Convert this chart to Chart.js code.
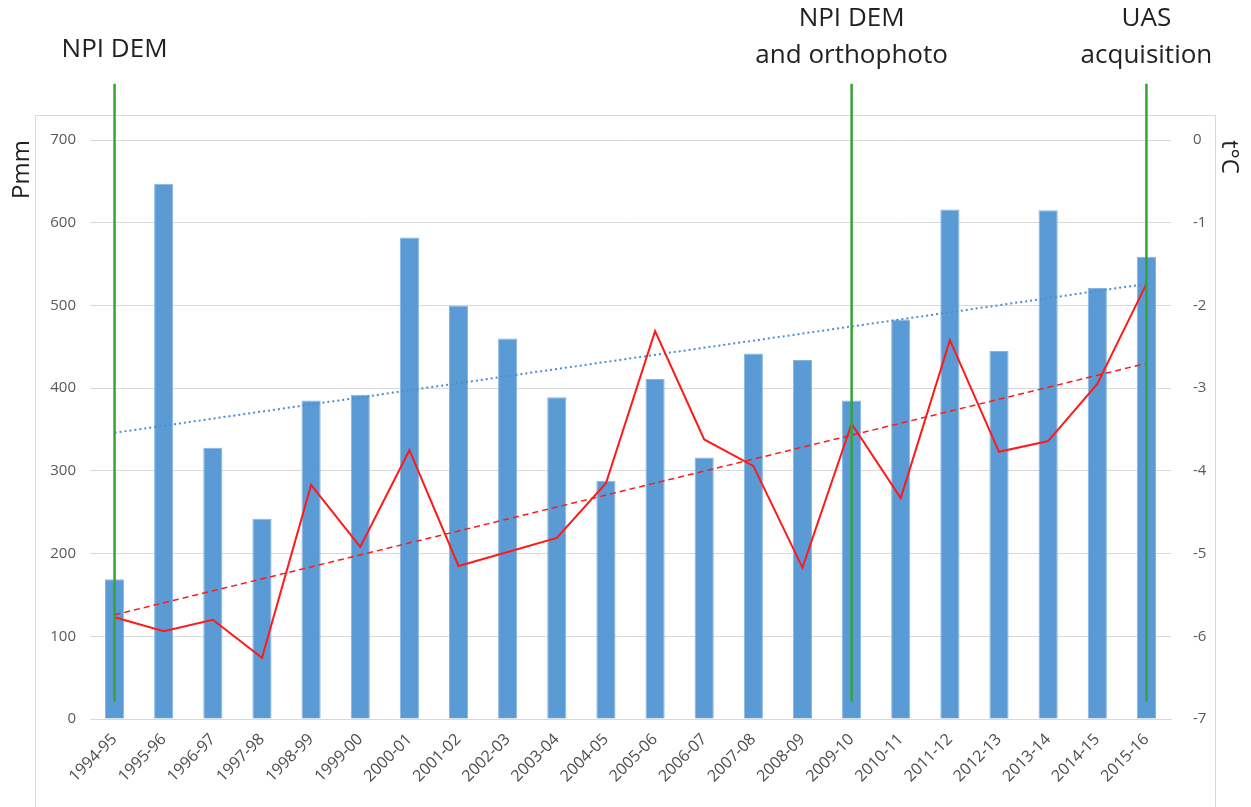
<!DOCTYPE html>
<html>
<head>
<meta charset="utf-8">
<script src="https://cdn.jsdelivr.net/npm/chart.js@4.4.1/dist/chart.umd.min.js"></script>
<style>
  body { margin: 0; background: #fff; }
  #wrap { width: 1251px; height: 807px; }
</style>
</head>
<body>
<div id="wrap"><canvas id="myChart"></canvas></div>
<script>
const seasons = ["1994-95", "1995-96", "1996-97", "1997-98", "1998-99", "1999-00",
  "2000-01", "2001-02", "2002-03", "2003-04", "2004-05", "2005-06", "2006-07",
  "2007-08", "2008-09", "2009-10", "2010-11", "2011-12", "2012-13", "2013-14",
  "2014-15", "2015-16"];

// precipitation, mm (left axis)
const precipitation = [169, 647, 328, 242, 385, 392, 582, 500, 460, 389, 288, 411,
  316, 442, 434, 385, 483, 616, 445, 615, 521, 559];

// mean temperature, °C (right axis)
const temperature = [-5.77, -5.94, -5.80, -6.26, -4.17, -4.92, -3.75, -5.15, -4.98,
  -4.81, -4.15, -2.31, -3.62, -3.94, -5.17, -3.43, -4.33, -2.42, -3.77, -3.64,
  -2.95, -1.74];

// linear trends, first and last season
const precipTrend = [346, 526];
const tempTrend = [-5.74, -2.70];

// acquisitions marked with green lines
const markerSeasons = ["1994-95", "2009-10", "2015-16"];
const markerLabels = [["NPI DEM"], ["NPI DEM", "and orthophoto"], ["UAS", "acquisition"]];
const markerSpan = [21, 768];

const tickFont = { family: "'Open Sans', sans-serif", size: 15 };
const tickColor = "#595959";
const blue = "#5b9bd5";
const red = "#ff1a1a";
const green = "#36a335";

const ends = (arr) => [
  { x: seasons[0], y: arr[0] },
  { x: seasons[seasons.length - 1], y: arr[1] },
];

const markerSets = markerSeasons.map((s) => ({
  type: "line",
  data: markerSpan.map((v) => ({ x: s, y: v })),
  yAxisID: "y",
  borderColor: green,
  borderWidth: 2.5,
  pointRadius: 0,
  clip: false,
  order: 0,
}));

// frame round the plot, like the spreadsheet chart box
const framePlugin = {
  id: "frame",
  beforeDraw(chart) {
    const c = chart.ctx;
    c.save();
    c.strokeStyle = "#d9d9d9";
    c.lineWidth = 1;
    c.strokeRect(35.5, 115.5, 1180, 760);
    c.restore();
  },
};

// captions above the green lines
const captionPlugin = {
  id: "captions",
  afterDraw(chart) {
    const c = chart.ctx;
    const xs = chart.scales.x;
    c.save();
    c.font = "26px 'Open Sans', sans-serif";
    c.fillStyle = "#222";
    c.textAlign = "center";
    c.textBaseline = "alphabetic";
    markerSeasons.forEach((s, i) => {
      const x = xs.getPixelForValue(seasons.indexOf(s));
      const lines = markerLabels[i];
      const last = lines.length > 1 ? 63 : 57;
      lines.forEach((t, j) => {
        c.fillText(t, x, last - (lines.length - 1 - j) * 36.6);
      });
    });
    c.restore();
  },
};

new Chart(document.getElementById("myChart"), {
  type: "bar",
  data: {
    labels: seasons,
    datasets: [
      ...markerSets,
      {
        type: "line",
        data: temperature,
        yAxisID: "y1",
        borderColor: red,
        borderWidth: 2,
        pointRadius: 0,
        tension: 0,
        order: 1,
      },
      {
        type: "line",
        data: ends(tempTrend),
        yAxisID: "y1",
        borderColor: red,
        borderWidth: 1.5,
        borderDash: [6, 4],
        pointRadius: 0,
        order: 2,
      },
      {
        type: "line",
        data: ends(precipTrend),
        yAxisID: "y",
        borderColor: "#4a8fd0",
        borderWidth: 2,
        borderDash: [2, 3],
        pointRadius: 0,
        order: 2,
      },
      {
        type: "bar",
        data: precipitation,
        yAxisID: "y",
        backgroundColor: blue,
        borderColor: "#86b4e0",
        borderWidth: 1,
        barPercentage: 0.39,
        categoryPercentage: 1,
        order: 5,
      },
    ],
  },
  options: {
    responsive: true,
    maintainAspectRatio: false,
    animation: false,
    layout: { padding: { top: 140, left: 0, right: 0, bottom: 0 } },
    plugins: { legend: { display: false }, tooltip: { enabled: false } },
    scales: {
      x: {
        grid: { display: false },
        border: { display: true, color: "#d9d9d9" },
        ticks: {
          font: { family: "'Open Sans', sans-serif", size: 16 },
          color: "#4d4d4d",
          minRotation: 45,
          maxRotation: 45,
          autoSkip: false,
        },
        afterFit: (s) => { s.height = 88; },
      },
      y: {
        position: "left",
        min: 0,
        max: 700,
        ticks: { stepSize: 100, font: tickFont, color: tickColor, padding: 14 },
        grid: { color: "#d9d9d9", drawTicks: false },
        border: { display: false },
        title: {
          display: true,
          text: "Pmm",
          align: "end",
          color: "#222",
          font: { family: "'Open Sans', sans-serif", size: 24 },
          padding: { top: 8, bottom: 0 },
        },
        afterFit: (s) => { s.width = 90; },
      },
      y1: {
        position: "right",
        min: -7,
        max: 0,
        ticks: { stepSize: 1, font: tickFont, color: tickColor, padding: 14 },
        grid: { display: false },
        border: { display: false },
        title: {
          display: true,
          text: "t°C",
          align: "end",
          color: "#222",
          font: { family: "'Open Sans', sans-serif", size: 24 },
          padding: { top: 8, bottom: 0 },
        },
        afterFit: (s) => { s.width = 80; },
      },
    },
  },
  plugins: [framePlugin, captionPlugin],
});
</script>
</body>
</html>
